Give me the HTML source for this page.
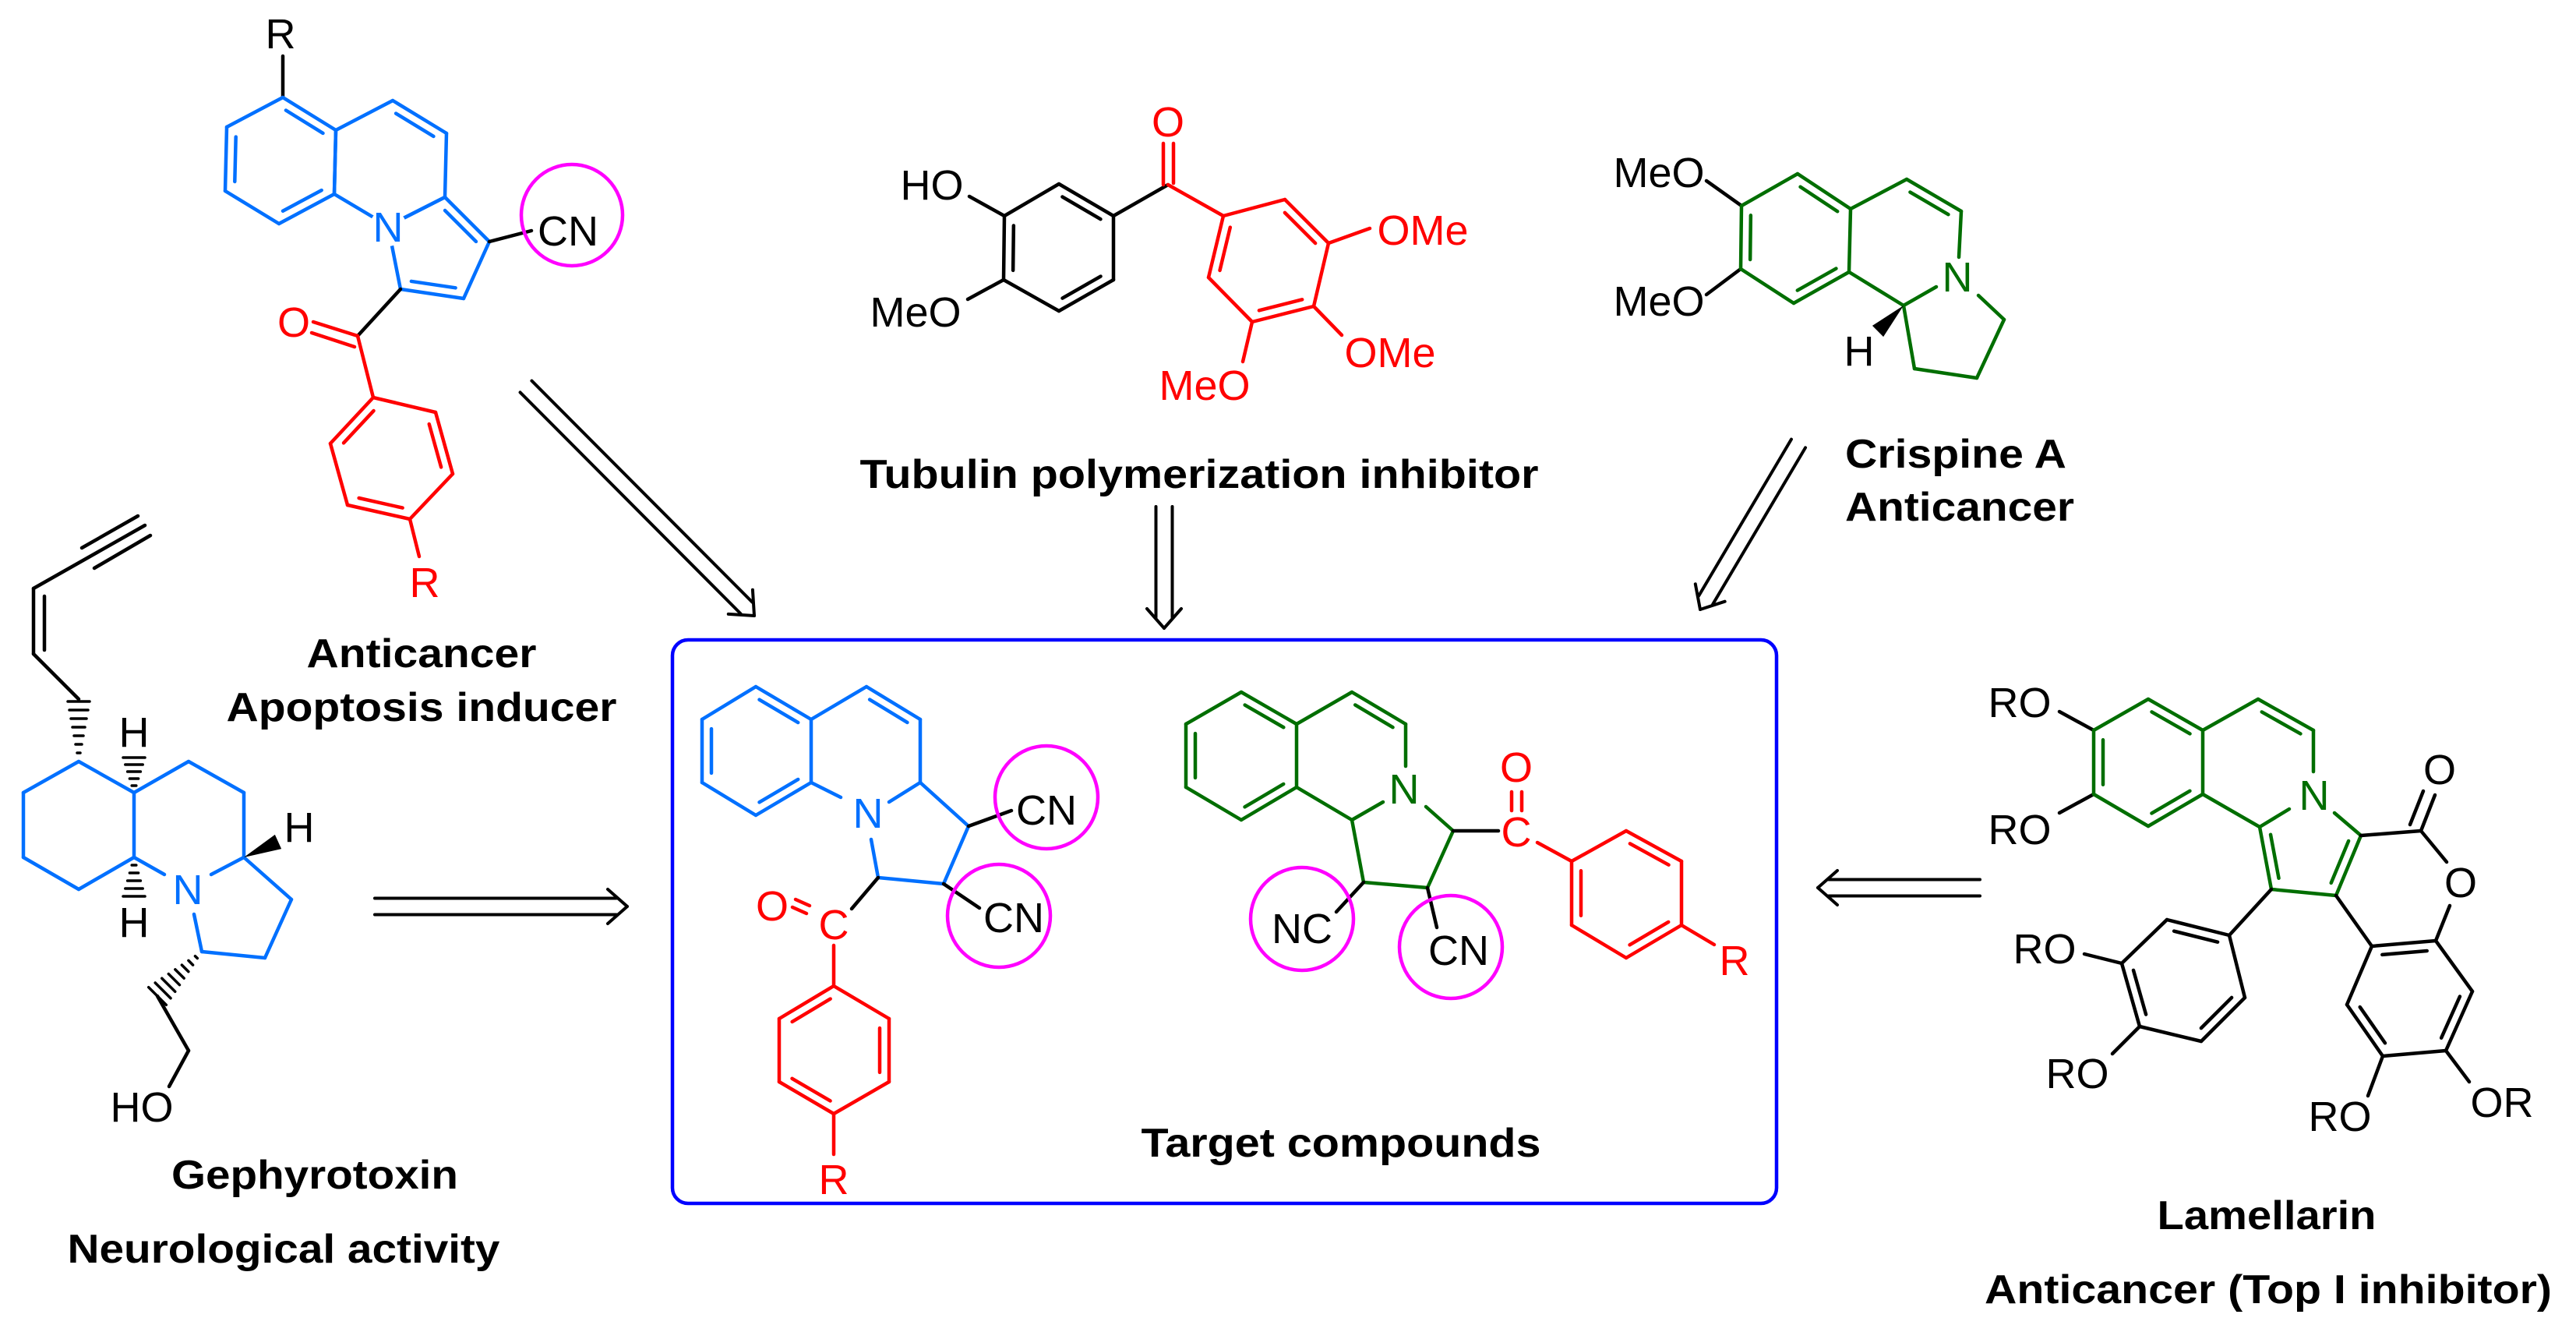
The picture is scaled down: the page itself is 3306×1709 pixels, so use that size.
<!DOCTYPE html>
<html><head><meta charset="utf-8"><style>
html,body{margin:0;padding:0;background:#fff;}
svg{display:block;}
text{font-family:"Liberation Sans",Arial,sans-serif;}
.a{font-size:54px;text-anchor:middle;}
.b{font-size:52px;font-weight:bold;text-anchor:middle;}
</style></head><body>
<svg id="s" xmlns="http://www.w3.org/2000/svg" width="3306" height="1709" viewBox="0 0 3306 1709">
<rect width="3306" height="1709" fill="#fff"/>
<g id="L"></g>
<rect x="863" y="821" width="1417" height="723" rx="20" fill="none" stroke="#0000ff" stroke-width="4.5"/>
<g fill="none" stroke="#ff00ff" stroke-width="4.5">
<circle cx="734" cy="276" r="65"/>
<circle cx="1343" cy="1023" r="66"/>
<circle cx="1282" cy="1175" r="66"/>
<circle cx="1671" cy="1179" r="66"/>
<circle cx="1862" cy="1215" r="66"/>
</g>
<g id="W" fill="#fff"></g>
<!-- atom labels -->
<g class="lbl">
<text class="a" x="360" y="62">R</text>
<text class="a" x="498" y="310" fill="#0070ff">N</text>
<text class="a" x="729" y="315">CN</text>
<text class="a" x="377" y="432" fill="#ff0000">O</text>
<text class="a" x="545" y="766" fill="#ff0000">R</text>

<text class="a" x="1196" y="256">HO</text>
<text class="a" x="1175" y="419">MeO</text>
<text class="a" x="1499" y="175" fill="#ff0000">O</text>
<text class="a" x="1826" y="314" fill="#ff0000">OMe</text>
<text class="a" x="1784" y="471" fill="#ff0000">OMe</text>
<text class="a" x="1546" y="513" fill="#ff0000">MeO</text>

<text class="a" x="2129" y="240">MeO</text>
<text class="a" x="2129" y="405">MeO</text>
<text class="a" x="2512" y="374" fill="#006e00">N</text>
<text class="a" x="2386" y="469">H</text>

<text class="a" x="172" y="958">H</text>
<text class="a" x="172" y="1202">H</text>
<text class="a" x="384" y="1080">H</text>
<text class="a" x="241" y="1160" fill="#0070ff">N</text>
<text class="a" x="182" y="1439">HO</text>

<text class="a" x="1114" y="1062" fill="#0070ff">N</text>
<text class="a" x="1343" y="1058">CN</text>
<text class="a" x="1301" y="1196">CN</text>
<text class="a" x="991" y="1181" fill="#ff0000">O</text>
<text class="a" x="1070" y="1205" fill="#ff0000">C</text>
<text class="a" x="1070" y="1532" fill="#ff0000">R</text>

<text class="a" x="1802" y="1031" fill="#006e00">N</text>
<text class="a" x="1671" y="1210">NC</text>
<text class="a" x="1872" y="1238">CN</text>
<text class="a" x="1946" y="1086" fill="#ff0000">C</text>
<text class="a" x="1946" y="1003" fill="#ff0000">O</text>
<text class="a" x="2226" y="1251" fill="#ff0000">R</text>

<text class="a" x="2592" y="920">RO</text>
<text class="a" x="2592" y="1083">RO</text>
<text class="a" x="2970" y="1039" fill="#006e00">N</text>
<text class="a" x="3131" y="1006">O</text>
<text class="a" x="3158" y="1151">O</text>
<text class="a" x="2624" y="1236">RO</text>
<text class="a" x="2666" y="1396">RO</text>
<text class="a" x="3003" y="1451">RO</text>
<text class="a" x="3211" y="1433">OR</text>
</g>
<!-- bold captions -->
<text class="b" x="1539" y="626" textLength="871" lengthAdjust="spacingAndGlyphs">Tubulin polymerization inhibitor</text>
<text x="2368" y="600" font-size="52" font-weight="bold" textLength="284" lengthAdjust="spacingAndGlyphs">Crispine A</text>
<text x="2368" y="668" font-size="52" font-weight="bold" textLength="294" lengthAdjust="spacingAndGlyphs">Anticancer</text>
<text class="b" x="541" y="856" textLength="295" lengthAdjust="spacingAndGlyphs">Anticancer</text>
<text class="b" x="541" y="925" textLength="501" lengthAdjust="spacingAndGlyphs">Apoptosis inducer</text>
<text class="b" x="404" y="1525" textLength="368" lengthAdjust="spacingAndGlyphs">Gephyrotoxin</text>
<text class="b" x="364" y="1620" textLength="555" lengthAdjust="spacingAndGlyphs">Neurological activity</text>
<text class="b" x="1721" y="1484" textLength="513" lengthAdjust="spacingAndGlyphs">Target compounds</text>
<text class="b" x="2909" y="1577" textLength="281" lengthAdjust="spacingAndGlyphs">Lamellarin</text>
<text class="b" x="2911" y="1672" textLength="728" lengthAdjust="spacingAndGlyphs">Anticancer (Top I inhibitor)</text>
</svg>
<script>
(function(){
var NS="http://www.w3.org/2000/svg",L=document.getElementById("L"),W=document.getElementById("W");
var BL="#0070ff",RD="#ff0000",GR="#006e00",K="#000";
function ln(a,b,c,d,col,w){var e=document.createElementNS(NS,"line");e.setAttribute("x1",a);e.setAttribute("y1",b);e.setAttribute("x2",c);e.setAttribute("y2",d);e.setAttribute("stroke",col);e.setAttribute("stroke-width",w||4.5);e.setAttribute("stroke-linecap","round");L.appendChild(e);}
function poly(p,col,closed){for(var i=0;i<p.length-1;i++)ln(p[i][0],p[i][1],p[i+1][0],p[i+1][1],col);if(closed)ln(p[p.length-1][0],p[p.length-1][1],p[0][0],p[0][1],col);}
function inner(a,b,c,col){ // double line inside towards c
 var dx=b[0]-a[0],dy=b[1]-a[1],len=Math.hypot(dx,dy),nx=-dy/len,ny=dx/len;
 var mx=(a[0]+b[0])/2,my=(a[1]+b[1])/2; if((c[0]-mx)*nx+(c[1]-my)*ny<0){nx=-nx;ny=-ny;}
 var o=12,s=0.15;ln(a[0]+dx*s+nx*o,a[1]+dy*s+ny*o,b[0]-dx*s+nx*o,b[1]-dy*s+ny*o,col);}
function ring(p,col,dbl){poly(p,col,true);var cx=0,cy=0;p.forEach(function(q){cx+=q[0];cy+=q[1];});cx/=p.length;cy/=p.length;
 (dbl||[]).forEach(function(i){inner(p[i],p[(i+1)%p.length],[cx,cy],col);});}
function wc(x,y,r){var e=document.createElementNS(NS,"circle");e.setAttribute("cx",x);e.setAttribute("cy",y);e.setAttribute("r",r||24);W.appendChild(e);}
function arrow(x1,y1,x2,y2){var dx=x2-x1,dy=y2-y1,len=Math.hypot(dx,dy),ux=dx/len,uy=dy/len,nx=-uy,ny=ux,o=10.5;
 var ex=x2-ux*14,ey=y2-uy*14;
 ln(x1+nx*o,y1+ny*o,ex+nx*o,ey+ny*o,K,4);ln(x1-nx*o,y1-ny*o,ex-nx*o,ey-ny*o,K,4);
 ln(x2,y2,x2-ux*25+nx*22,y2-uy*25+ny*22,K,4);ln(x2,y2,x2-ux*25-nx*22,y2-uy*25-ny*22,K,4);}
function wedge(a,b,w,col){var dx=b[0]-a[0],dy=b[1]-a[1],len=Math.hypot(dx,dy),nx=-dy/len*w,ny=dx/len*w;
 var e=document.createElementNS(NS,"polygon");e.setAttribute("points",a[0]+","+a[1]+" "+(b[0]+nx)+","+(b[1]+ny)+" "+(b[0]-nx)+","+(b[1]-ny));e.setAttribute("fill",col||K);L.appendChild(e);}
function hash(a,b,w,n){var dx=b[0]-a[0],dy=b[1]-a[1],len=Math.hypot(dx,dy),nx=-dy/len,ny=dx/len;
 for(var i=1;i<=n;i++){var t=i/n,x=a[0]+dx*t,y=a[1]+dy*t,hw=w*t;ln(x-nx*hw,y-ny*hw,x+nx*hw,y+ny*hw,K,3.5);}}

// ---- Molecule 1 (blue, top-left)
ln(363,72,363,125,K);
ring([[363,125],[291,163],[289,245],[358,287],[429,249],[431,167]],BL,[1,3,5]);
ring([[431,167],[504,129],[573,171],[571,253],[498,290],[429,249]],BL,[1]);
ring([[571,253],[628,310],[595,383],[514,371],[498,290]],BL,[0,2]);
wc(498,292,24);
ln(628,310,682,296,K);
ln(514,371,459,431,K);
ln(459,431,402,413,RD);ln(455,445,400,427,RD);
ln(459,431,479,510,RD);
ring([[479,510],[559,529],[581,608],[526,666],[446,648],[424,569]],RD,[1,3,5]);
ln(526,666,538,714,RD);

// ---- Tubulin
ln(1244,252,1289,277,K);ln(1242,384,1288,359,K);
ring([[1289,277],[1359,236],[1429,277],[1429,359],[1359,399],[1288,359]],K,[1,3,5]);
ln(1429,277,1499,237,K);
ln(1493,184,1493,237,RD);ln(1506,184,1506,235,RD);
ln(1499,237,1570,277,RD);
ring([[1570,277],[1649,256],[1705,312],[1686,393],[1607,413],[1551,356]],RD,[1,3,5]);
ln(1705,312,1758,293,RD);ln(1686,393,1722,430,RD);ln(1607,413,1595,464,RD);

// ---- Crispine A
ln(2190,232,2235,264,K);ln(2190,378,2234,345,K);
ring([[2307,223],[2375,268],[2373,349],[2302,389],[2234,345],[2235,264]],GR,[0,2,4]);
poly([[2375,268],[2447,230],[2517,271],[2514,330]],GR);inner([2447,230],[2517,271],[2440,300],GR);
poly([[2485,368],[2443,392],[2373,349]],GR);
poly([[2539,379],[2572,410],[2537,485],[2457,473],[2443,392]],GR);
wedge([2443,392],[2410,425],10);

// ---- Gephyrotoxin
ring([[101,977],[172,1017],[172,1100],[101,1141],[30,1100],[30,1017]],BL);
poly([[172,1100],[211,1122]],BL);poly([[271,1122],[313,1100]],BL);
poly([[172,1017],[242,977],[313,1017],[313,1100],[374,1154],[340,1229],[259,1221],[249,1173]],BL);
wedge([313,1100],[357,1080],10);
hash([172,1017],[172,972],14,5);hash([172,1100],[172,1150],14,5);
hash([101,977],[101,900],14,7);
ln(101,897,43,839,K);ln(43,839,43,755,K);ln(57,834,57,765,K);
ln(43,755,186,674,K);ln(105,703,177,662,K);ln(121,729,193,687,K);
hash([259,1221],[202,1278],16,8);
ln(202,1278,242,1348,K);ln(242,1348,217,1394,K);

// ---- Target blue
ring([[970,881],[1041,923],[1041,1004],[970,1046],[901,1004],[901,923]],BL,[0,2,4]);
poly([[1041,923],[1112,881],[1181,923],[1181,1004]],BL);inner([1112,881],[1181,923],[1110,960],BL);
ln(1041,1004,1079,1023,BL);ln(1141,1029,1181,1004,BL);
poly([[1181,1004],[1243,1060],[1211,1134],[1127,1126],[1118,1077]],BL);
ln(1243,1060,1298,1040,K);ln(1211,1134,1257,1165,K);
ln(1127,1126,1093,1166,K);
ln(1017,1164,1035,1172,RD);ln(1021,1154,1039,1162,RD);
ln(1070,1213,1070,1265,RD);
ring([[1070,1265],[1141,1307],[1141,1388],[1070,1429],[1000,1388],[1000,1307]],RD,[1,3,5]);
ln(1070,1429,1070,1481,RD);

// ---- Target green
ring([[1593,888],[1664,929],[1664,1010],[1593,1052],[1522,1010],[1522,929]],GR,[0,2,4]);
poly([[1664,929],[1735,888],[1804,929],[1804,983]],GR);inner([1735,888],[1804,929],[1735,960],GR);
poly([[1775,1029],[1735,1052],[1664,1010]],GR);
poly([[1830,1035],[1865,1066],[1832,1139],[1750,1132],[1735,1052]],GR);
ln(1750,1132,1715,1170,K);ln(1832,1139,1844,1190,K);
ln(1865,1066,1923,1066,K);
ln(1940,1016,1940,1040,RD);ln(1953,1016,1953,1040,RD);
ln(1973,1081,2017,1105,RD);
ring([[2017,1105],[2087,1066],[2158,1105],[2158,1187],[2087,1229],[2017,1187]],RD,[1,3,5]);
ln(2158,1187,2200,1212,RD);

// ---- Lamellarin
ln(2643,913,2687,937,K);ln(2643,1043,2687,1019,K);
ring([[2757,897],[2827,937],[2827,1019],[2757,1060],[2687,1019],[2687,937]],GR,[0,2,4]);
poly([[2827,937],[2898,897],[2969,937],[2969,990]],GR);inner([2898,897],[2969,937],[2898,975],GR);
poly([[2938,1038],[2900,1061],[2827,1019]],GR);
poly([[2996,1043],[3030,1072],[2998,1149],[2915,1141],[2900,1061]],GR);
inner([2900,1061],[2915,1141],[2960,1100],GR);inner([3030,1072],[2998,1149],[2960,1100],GR);
ln(3030,1072,3107,1066,K);ln(3107,1066,3125,1020,K);ln(3093,1058,3110,1015,K);
ln(3107,1066,3140,1106,K);ln(3144,1162,3126,1207,K);
ln(2998,1149,3044,1214,K);
ring([[3044,1214],[3126,1207],[3173,1272],[3139,1348],[3058,1355],[3012,1289]],K,[0,2,4]);
ln(3139,1348,3169,1388,K);ln(3058,1355,3039,1406,K);
ln(2915,1141,2861,1200,K);
ring([[2861,1200],[2781,1180],[2723,1236],[2746,1317],[2825,1336],[2881,1280]],K,[0,2,4]);
ln(2723,1236,2675,1224,K);ln(2746,1317,2711,1352,K);

// ---- arrows
arrow(675,496,968,790);
arrow(1494,650,1494,806);
arrow(2308,569,2182,782);
arrow(481,1163,805,1163);
arrow(2541,1139,2333,1139);
})();
</script>
</body></html>
